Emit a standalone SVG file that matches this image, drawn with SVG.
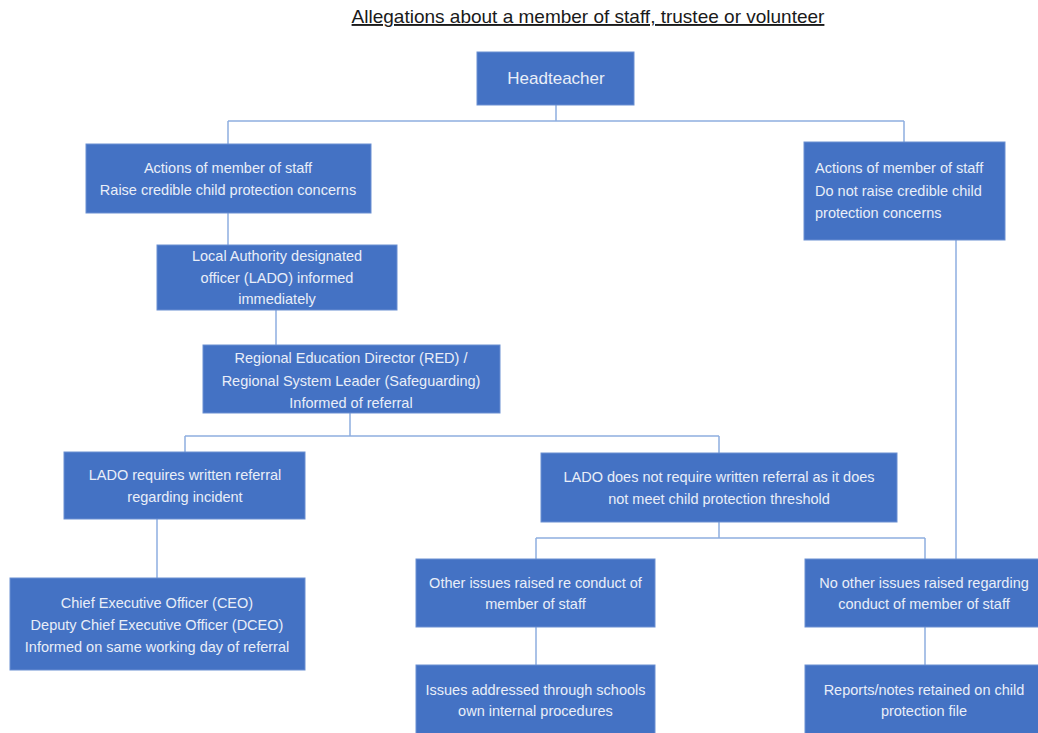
<svg xmlns="http://www.w3.org/2000/svg" width="1038" height="733" viewBox="0 0 1038 733">
<style>
.box{fill:#4472C4;stroke:#6a8fd2;stroke-width:1}
.t{font-family:"Liberation Sans",Arial,sans-serif;font-size:14.5px;fill:#e9eef8;text-anchor:middle}
.tl{text-anchor:start}
.conn{fill:none;stroke:#8eaee0;stroke-width:1.5}
.title{font-family:"Liberation Sans",Arial,sans-serif;font-size:19px;fill:#1a1a1a;text-anchor:middle;text-decoration:underline}
</style>
<rect width="1038" height="733" fill="#ffffff"/>
<text class="title" x="588" y="23">Allegations about a member of staff, trustee or volunteer</text>
<g id="connectors">
<path class="conn" d="M556 105V121M228 121H904M228 121V144M904 121V142"/>
<path class="conn" d="M228 213V245"/>
<path class="conn" d="M276 310V345"/>
<path class="conn" d="M350 413V436M185 436H719M185 436V452M719 436V453"/>
<path class="conn" d="M157 519V578"/>
<path class="conn" d="M719 522V538M536 538H925M536 538V559M925 538V559"/>
<path class="conn" d="M956 240V559"/>
<path class="conn" d="M536 627V665M925 627V665"/>
</g>
<g id="headteacher">
<rect class="box" x="477" y="52" width="157" height="53"/>
<text class="t" x="556" y="84" style="font-size:17px">Headteacher</text>
</g>
<g id="raise">
<rect class="box" x="86" y="144" width="285" height="69"/>
<text class="t" x="228" y="173">Actions of member of staff</text>
<text class="t" x="228" y="195">Raise credible child protection concerns</text>
</g>
<g id="noraise">
<rect class="box" x="804" y="142" width="201" height="98"/>
<text class="t tl" x="815" y="173">Actions of member of staff</text>
<text class="t tl" x="815" y="196">Do not raise credible child</text>
<text class="t tl" x="815" y="218">protection concerns</text>
</g>
<g id="lado-informed">
<rect class="box" x="157" y="245" width="240" height="65"/>
<text class="t" x="277" y="261">Local Authority designated</text>
<text class="t" x="277" y="283">officer (LADO) informed</text>
<text class="t" x="277" y="304">immediately</text>
</g>
<g id="red">
<rect class="box" x="203" y="345" width="297" height="68"/>
<text class="t" x="351" y="363">Regional Education Director (RED) /</text>
<text class="t" x="351" y="386">Regional System Leader (Safeguarding)</text>
<text class="t" x="351" y="408">Informed of referral</text>
</g>
<g id="lado-requires">
<rect class="box" x="64" y="452" width="241" height="67"/>
<text class="t" x="185" y="480">LADO requires written referral</text>
<text class="t" x="185" y="502">regarding incident</text>
</g>
<g id="ceo">
<rect class="box" x="10" y="578" width="295" height="92"/>
<text class="t" x="157" y="608">Chief Executive Officer (CEO)</text>
<text class="t" x="157" y="630">Deputy Chief Executive Officer (DCEO)</text>
<text class="t" x="157" y="652">Informed on same working day of referral</text>
</g>
<g id="lado-not">
<rect class="box" x="541" y="453" width="356" height="69"/>
<text class="t" x="719" y="482">LADO does not require written referral as it does</text>
<text class="t" x="719" y="504">not meet child protection threshold</text>
</g>
<g id="other-issues">
<rect class="box" x="416" y="559" width="239" height="68"/>
<text class="t" x="535.5" y="588">Other issues raised re conduct of</text>
<text class="t" x="535.5" y="609">member of staff</text>
</g>
<g id="no-other">
<rect class="box" x="805" y="559" width="240" height="68"/>
<text class="t" x="924" y="588">No other issues raised regarding</text>
<text class="t" x="924" y="609">conduct of member of staff</text>
</g>
<g id="issues-addressed">
<rect class="box" x="416" y="665" width="239" height="80"/>
<text class="t" x="535.5" y="695">Issues addressed through schools</text>
<text class="t" x="535.5" y="716">own internal procedures</text>
</g>
<g id="reports">
<rect class="box" x="805" y="665" width="240" height="80"/>
<text class="t" x="924" y="695">Reports/notes retained on child</text>
<text class="t" x="924" y="716">protection file</text>
</g>
</svg>
